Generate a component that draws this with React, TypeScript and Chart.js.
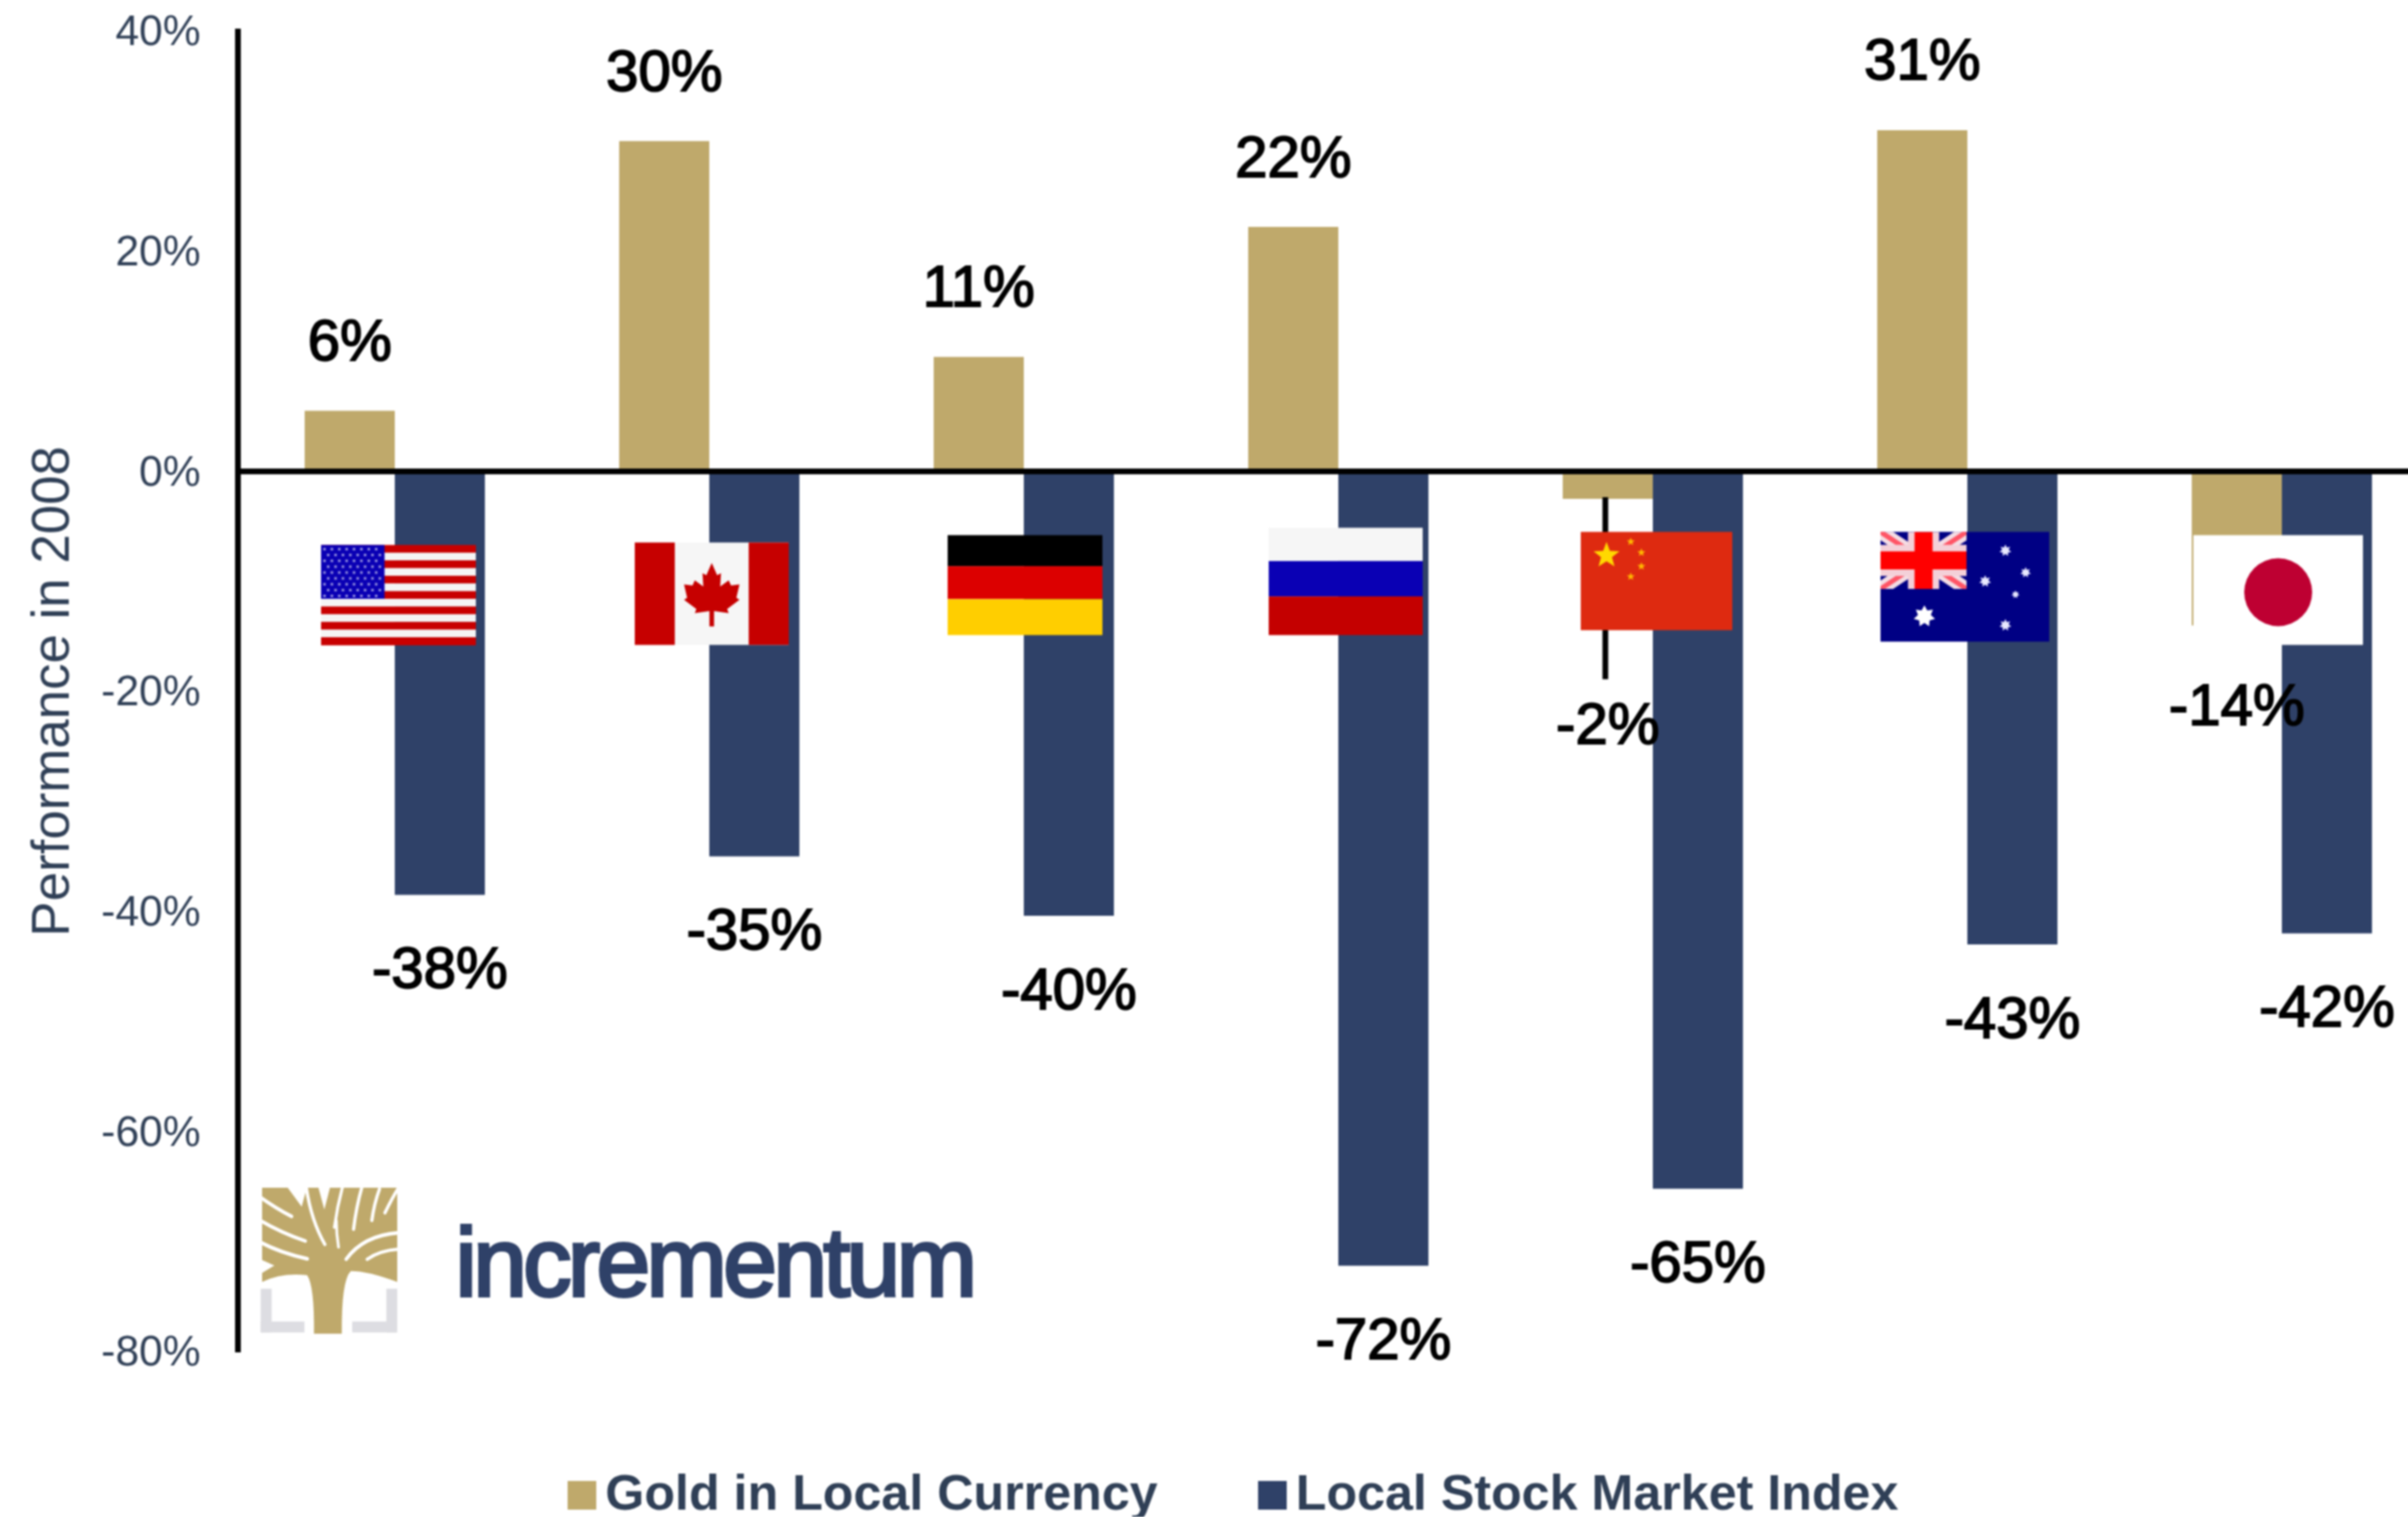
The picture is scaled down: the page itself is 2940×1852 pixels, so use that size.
import React, { useEffect, useRef } from "react";
import { Chart, registerables } from "chart.js";

Chart.register(...registerables);

const countries = ["USA", "Canada", "Germany", "Russia", "China", "Australia", "Japan"];
const goldValues = [5.5, 30, 10.4, 22.2, -2.5, 31, -14];
const stockValues = [-38.5, -35, -40.4, -72.2, -65.2, -43, -42];
const goldLabels = ["6%", "30%", "11%", "22%", "-2%", "31%", "-14%"];
const stockLabels = ["-38%", "-35%", "-40%", "-72%", "-65%", "-43%", "-42%"];
const seriesNames = ["Gold in Local Currency", "Local Stock Market Index"];
const axisTitle = "Performance in 2008";
const logoText = "incrementum";

const GOLD = "#BFA96B";
const NAVY = "#2F4168";
const SLATE = "#2F3F56";
const SANS = '"Liberation Sans", Arial, sans-serif';

type Ctx = CanvasRenderingContext2D;

function rect(c: Ctx, color: string, x: number, y: number, w: number, h: number) {
  c.fillStyle = color;
  c.fillRect(x, y, w, h);
}

function star(c: Ctx, cx: number, cy: number, r: number, color: string, points = 5, inner = 0.42) {
  c.fillStyle = color;
  c.beginPath();
  for (let i = 0; i < points * 2; i++) {
    const rad = i % 2 ? r * inner : r;
    const a = -Math.PI / 2 + (i * Math.PI) / points;
    const px = cx + rad * Math.cos(a);
    const py = cy + rad * Math.sin(a);
    if (i) c.lineTo(px, py);
    else c.moveTo(px, py);
  }
  c.closePath();
  c.fill();
}

function flagUS(c: Ctx, x: number, y: number, w: number, h: number) {
  const s = h / 13;
  for (let i = 0; i < 13; i++) rect(c, i % 2 ? "#F5F5F5" : "#C80000", x, y + i * s, w, s + 0.5);
  const cw = w * 0.41;
  const ch = s * 7;
  rect(c, "#0A00B4", x, y, cw, ch);
  c.fillStyle = "#9C98E0";
  for (let r = 0; r < 9; r++) {
    for (let k = 0; k < 8; k++) {
      c.fillRect(x + ((k + 0.3 + (r % 2 ? 0.5 : 0)) * cw) / 8.6, y + ((r + 0.5) * ch) / 9.2, 3, 3);
    }
  }
}

function flagCanada(c: Ctx, x: number, y: number, w: number, h: number) {
  rect(c, "#F6F6F6", x, y, w, h);
  rect(c, "#C60000", x, y, w * 0.26, h);
  rect(c, "#C60000", x + w * 0.74, y, w * 0.26, h);
  const pts = [
    [0.5, 0.2], [0.535, 0.32], [0.56, 0.3], [0.555, 0.43], [0.61, 0.37], [0.625, 0.42], [0.68, 0.41],
    [0.66, 0.54], [0.68, 0.56], [0.6, 0.65], [0.61, 0.69], [0.515, 0.67], [0.515, 0.82], [0.485, 0.82],
    [0.485, 0.67], [0.39, 0.69], [0.4, 0.65], [0.32, 0.56], [0.34, 0.54], [0.32, 0.41], [0.375, 0.42],
    [0.39, 0.37], [0.445, 0.43], [0.44, 0.3], [0.465, 0.32],
  ];
  c.fillStyle = "#C60000";
  c.beginPath();
  pts.forEach(([a, b], i) => (i ? c.lineTo(x + a * w, y + b * h) : c.moveTo(x + a * w, y + b * h)));
  c.closePath();
  c.fill();
}

function flagGermany(c: Ctx, x: number, y: number, w: number, h: number) {
  rect(c, "#000000", x, y, w, h * 0.31);
  rect(c, "#DC0000", x, y + h * 0.31, w, h * 0.33);
  rect(c, "#FFCE00", x, y + h * 0.64, w, h * 0.36);
}

function flagRussia(c: Ctx, x: number, y: number, w: number, h: number) {
  rect(c, "#F6F6F6", x, y, w, h * 0.31);
  rect(c, "#0A00B4", x, y + h * 0.31, w, h * 0.33);
  rect(c, "#C40000", x, y + h * 0.64, w, h * 0.36);
}

function flagChina(c: Ctx, x: number, y: number, w: number, h: number) {
  rect(c, "#DE2A10", x, y, w, h);
  star(c, x + w * 0.17, y + h * 0.24, w * 0.09, "#FFD800");
  [[0.33, 0.1], [0.4, 0.21], [0.4, 0.35], [0.33, 0.455]].forEach(([a, b]) =>
    star(c, x + a * w, y + b * h, w * 0.028, "#FFB800"),
  );
}

function flagAustralia(c: Ctx, x: number, y: number, w: number, h: number) {
  rect(c, "#000084", x, y, w, h);
  const cw = w * 0.51;
  const ch = h * 0.52;
  c.save();
  c.beginPath();
  c.rect(x, y, cw, ch);
  c.clip();
  c.lineCap = "butt";
  const diag = (col: string, lw: number) => {
    c.strokeStyle = col;
    c.lineWidth = lw;
    c.beginPath();
    c.moveTo(x, y);
    c.lineTo(x + cw, y + ch);
    c.moveTo(x + cw, y);
    c.lineTo(x, y + ch);
    c.stroke();
  };
  diag("#F4DDE4", 17);
  diag("#FF5566", 6);
  rect(c, "#F4D0D8", x + cw / 2 - 19, y, 38, ch);
  rect(c, "#F4D0D8", x, y + ch / 2 - 19, cw, 38);
  rect(c, "#FF0000", x + cw / 2 - 11, y, 22, ch);
  rect(c, "#FF0000", x, y + ch / 2 - 11, cw, 22);
  c.restore();
  star(c, x + w * 0.26, y + h * 0.77, w * 0.065, "#FFFFFF", 7, 0.6);
  [[0.74, 0.17, 0.036], [0.62, 0.45, 0.036], [0.86, 0.37, 0.032], [0.8, 0.57, 0.024], [0.74, 0.85, 0.036]].forEach(
    ([a, b, r]) => star(c, x + a * w, y + b * h, w * r, "#E8E8FF", 7, 0.55),
  );
}

function flagJapan(c: Ctx, x: number, y: number, w: number, h: number) {
  rect(c, "#FFFFFF", x, y, w, h);
  c.fillStyle = "#BE0032";
  c.beginPath();
  c.arc(x + w * 0.5, y + h * 0.52, 41.5, 0, Math.PI * 2);
  c.fill();
}

// flag boxes, relative to each category's centre and to the zero line
const flagArt = [flagUS, flagCanada, flagGermany, flagRussia, flagChina, flagAustralia, flagJapan];
const flagBoxes = [
  { dx: -90, top: 90, w: 189, h: 122 },
  { dx: -91, top: 87, w: 188, h: 125 },
  { dx: -93, top: 78, w: 189, h: 122 },
  { dx: -85, top: 69, w: 188, h: 131 },
  { dx: -88, top: 74, w: 185, h: 120 },
  { dx: -106, top: 74, w: 206, h: 134 },
  { dx: -108, top: 78, w: 207, h: 134 },
];

function drawLogo(c: Ctx) {
  c.save();
  c.translate(300, 1430);
  c.scale(1 / 3, 1 / 3);
  c.fillStyle = "#DDDDE2";
  c.fillRect(55, 430, 40, 160);
  c.fillRect(55, 550, 160, 40);
  c.fillRect(515, 430, 40, 160);
  c.fillRect(390, 550, 165, 40);
  c.fillStyle = GOLD;
  c.beginPath();
  c.moveTo(60, 60);
  c.lineTo(555, 60);
  c.lineTo(555, 405);
  c.quadraticCurveTo(450, 365, 385, 365);
  c.quadraticCurveTo(350, 400, 352, 595);
  c.lineTo(250, 595);
  c.quadraticCurveTo(252, 420, 225, 380);
  c.quadraticCurveTo(130, 370, 60, 405);
  c.lineTo(60, 372);
  c.lineTo(105, 345);
  c.lineTo(60, 325);
  c.closePath();
  c.fill();
  c.strokeStyle = "#FFFFFF";
  c.lineCap = "round";
  c.lineJoin = "round";
  const gaps: number[][] = [
    [50, 92, 110, 135, 168, 165, 13],
    [50, 178, 130, 225, 218, 255, 13],
    [50, 258, 130, 300, 225, 320, 14],
    [222, 60, 240, 180, 290, 268, 12],
    [355, 55, 335, 130, 325, 205, 11],
    [332, 180, 332, 230, 340, 278, 10],
    [425, 60, 405, 130, 395, 212, 12],
    [490, 65, 470, 120, 462, 180, 12],
    [560, 60, 535, 100, 510, 152, 12],
    [560, 225, 430, 235, 368, 322, 13],
    [560, 285, 490, 290, 445, 322, 12],
  ];
  gaps.forEach(([a, b, d, e, f, g, lw]) => {
    c.lineWidth = lw;
    c.beginPath();
    c.moveTo(a, b);
    c.quadraticCurveTo(d, e, f, g);
    c.stroke();
  });
  c.fillStyle = "#FFFFFF";
  c.beginPath();
  c.moveTo(150, 55);
  c.lineTo(225, 55);
  c.lineTo(205, 130);
  c.closePath();
  c.fill();
  c.beginPath();
  c.moveTo(265, 55);
  c.lineTo(310, 55);
  c.lineTo(288, 140);
  c.closePath();
  c.fill();
  c.restore();

  c.save();
  c.font = `118px ${SANS}`;
  (c as any).letterSpacing = "-4.5px";
  c.textAlign = "left";
  c.textBaseline = "alphabetic";
  c.fillStyle = NAVY;
  c.strokeStyle = NAVY;
  c.lineWidth = 4;
  c.fillText(logoText, 556, 1582);
  c.strokeText(logoText, 556, 1582);
  c.restore();
}

const overlayPlugin = {
  id: "overlay",
  afterDatasetsDraw(chart: any) {
    const c: Ctx = chart.ctx;
    const xs = chart.scales.x;
    const ys = chart.scales.y;
    const goldBars = chart.getDatasetMeta(0).data;
    const stockBars = chart.getDatasetMeta(1).data;

    // leader line of the Chinese gold label
    const chinaIndex = countries.indexOf("China");
    c.save();
    c.strokeStyle = "#000000";
    c.lineWidth = 7;
    c.beginPath();
    c.moveTo(goldBars[chinaIndex].x - 3, ys.getPixelForValue(goldValues[chinaIndex]) - 2);
    c.lineTo(goldBars[chinaIndex].x - 3, ys.getPixelForValue(-18.9));
    c.stroke();
    c.restore();

    const zero = ys.getPixelForValue(0);
    flagArt.forEach((draw, i) => {
      const b = flagBoxes[i];
      draw(c, xs.getPixelForValue(i) + b.dx, zero + b.top, b.w, b.h);
    });

    drawLogo(c);

    c.save();
    c.font = `71px ${SANS}`;
    c.textAlign = "center";
    c.textBaseline = "middle";
    c.fillStyle = "#000000";
    c.strokeStyle = "#000000";
    c.lineWidth = 2;
    const put = (t: string, x: number, y: number) => {
      c.fillText(t, x, y);
      c.strokeText(t, x, y);
    };
    goldBars.forEach((bar: any, i: number) => {
      let y = bar.y + (goldValues[i] >= 0 ? -81 : 102);
      if (i === chinaIndex) y = ys.getPixelForValue(-23.3);
      put(goldLabels[i], bar.x, y);
    });
    stockBars.forEach((bar: any, i: number) => put(stockLabels[i], bar.x, bar.y + 94));
    c.restore();

    // legend
    c.save();
    c.font = `bold 61.3px ${SANS}`;
    c.textAlign = "left";
    c.textBaseline = "alphabetic";
    const swatches = [693, 1536];
    chart.data.datasets.forEach((ds: any, i: number) => {
      rect(c, ds.backgroundColor, swatches[i], 1808, 35, 35);
      c.fillStyle = SLATE;
      c.fillText(ds.label, swatches[i] + 46, 1843);
    });
    c.restore();
  },
};

export default function App() {
  const ref = useRef<HTMLCanvasElement>(null);
  useEffect(() => {
    const chart = new Chart(ref.current as HTMLCanvasElement, {
      type: "bar",
      data: {
        labels: countries,
        datasets: [
          { label: seriesNames[0], data: goldValues, backgroundColor: GOLD, borderWidth: 0 },
          { label: seriesNames[1], data: stockValues, backgroundColor: NAVY, borderWidth: 0 },
        ],
      },
      options: {
        responsive: false,
        animation: false,
        events: [],
        layout: { padding: { top: 38, bottom: 202, left: 0, right: 0 } },
        datasets: { bar: { categoryPercentage: 0.573, barPercentage: 1 } },
        plugins: { legend: { display: false }, tooltip: { enabled: false }, title: { display: false } },
        scales: {
          x: {
            type: "category",
            position: { y: 0 },
            grid: { display: false, drawTicks: false },
            ticks: { display: false },
            border: { display: true, color: "#000000", width: 7, z: 1 },
          },
          y: {
            min: -80,
            max: 40,
            afterFit: (s: any) => {
              s.width = 290;
              s.paddingTop = 0;
              s.paddingBottom = 0;
            },
            grid: { display: false, drawTicks: false },
            border: { display: true, color: "#000000", width: 7, z: 1 },
            title: {
              display: true,
              text: axisTitle,
              color: SLATE,
              font: { family: SANS, size: 64.5 },
              padding: { top: 28, bottom: 0 },
            },
            ticks: {
              stepSize: 20,
              padding: 45,
              labelOffset: 3,
              color: SLATE,
              font: { family: SANS, size: 52 },
              callback: (v: any) => `${v}%`,
            },
          },
        },
      } as any,
      plugins: [overlayPlugin],
    });
    return () => chart.destroy();
  }, []);
  return (
    <div style={{ position: "fixed", inset: 0, overflow: "hidden", background: "#FFFFFF" }}>
      <canvas ref={ref} width={2978} height={1852} style={{ display: "block", filter: "blur(1px)" }} />
    </div>
  );
}
